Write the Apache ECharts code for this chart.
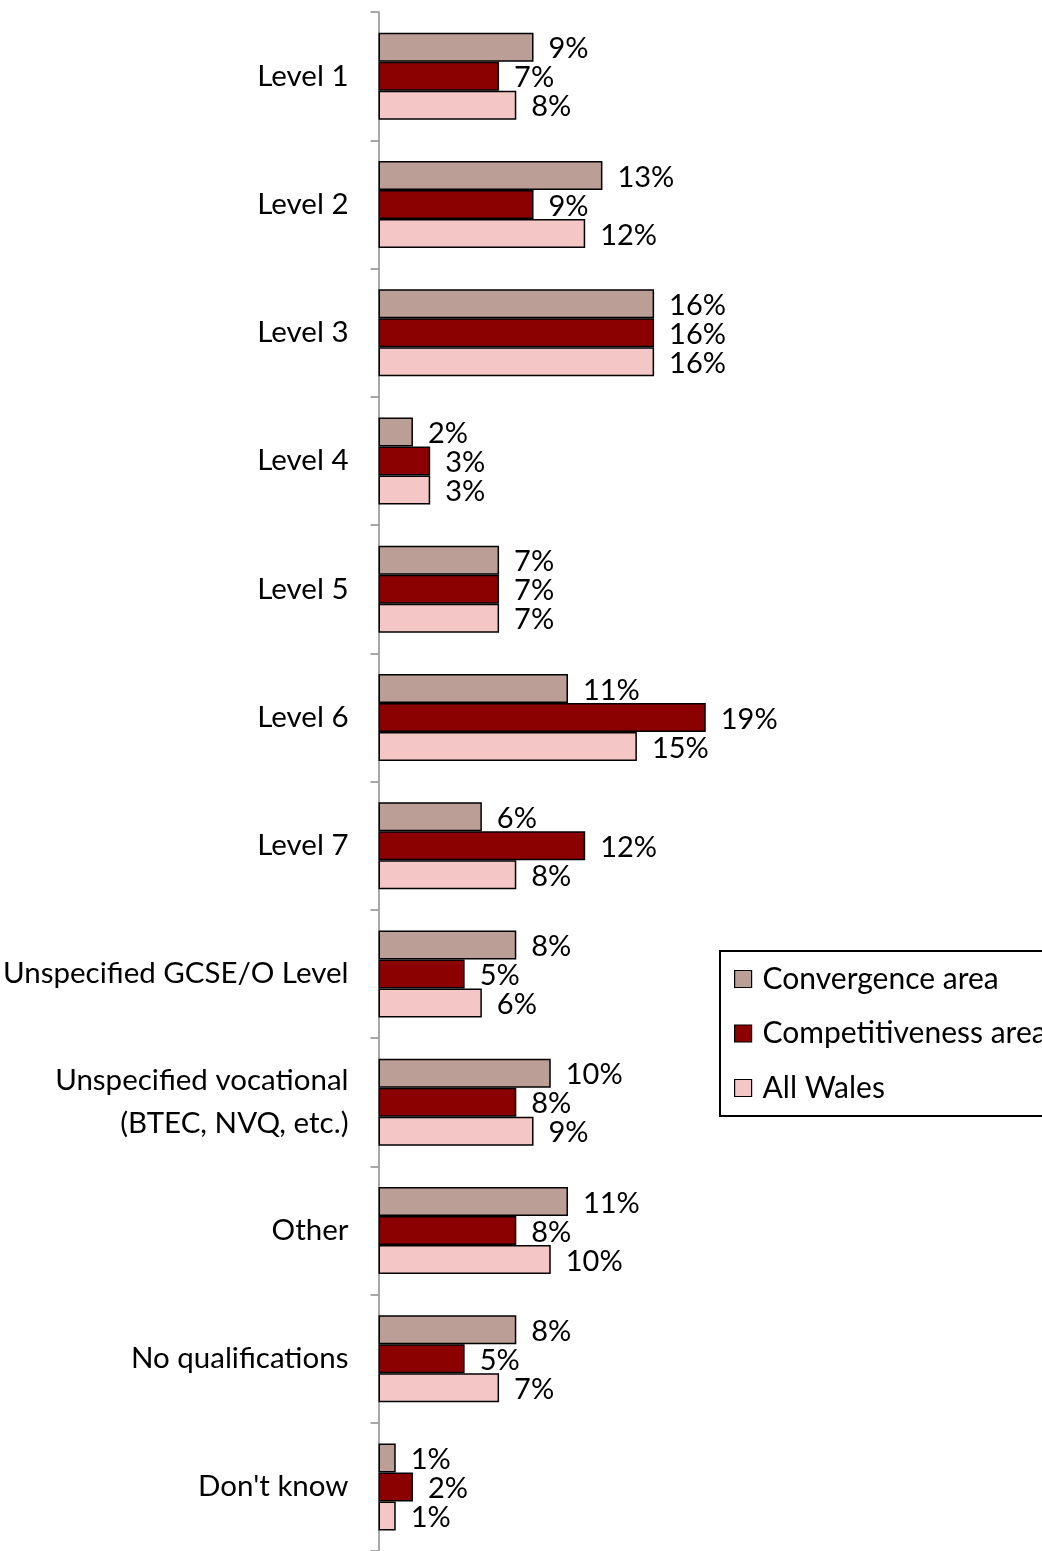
<!DOCTYPE html>
<html>
<head>
<meta charset="utf-8">
<script src="https://cdn.jsdelivr.net/npm/echarts@6/dist/echarts.min.js"></script>
<style>
html,body{margin:0;padding:0;background:#fff;}
#chart{width:1042px;height:1551px;}
</style>
</head>
<body>
<div id="chart"></div>
<script>
const categories = ["Level 1","Level 2","Level 3","Level 4","Level 5","Level 6","Level 7","Unspecified GCSE/O Level","Unspecified vocational\n(BTEC, NVQ, etc.)","Other","No qualifications","Don't know"];
const seriesNames = ["Convergence area","Competitiveness area","All Wales"];
const convergence = [9,13,16,2,7,11,6,8,10,11,8,1];
const competitiveness = [7,9,16,3,7,19,12,5,8,8,5,2];
const allWales = [8,12,16,3,7,15,8,6,9,10,7,1];
const colors = ["#BB9E95","#8B0000","#F5C6C6"];

const FONT = "Lato";
const chart = echarts.init(document.getElementById('chart'));
function mk(name, data, color){
  return {
    name: name, type: 'bar', data: data, barWidth: 29, barGap: '0%',
    itemStyle: {color: color, borderColor: '#000', borderWidth: 1.5},
    label: {show: true, position: 'right', distance: 15, offset: [0, 2], formatter: '{c}%',
      fontFamily: FONT, fontSize: 29, color: '#000'},
    animation: false
  };
}
chart.setOption({
  animation: false,
  grid: {left: 377, top: 12, width: 346, height: 1544, containLabel: false},
  xAxis: {type: 'value', min: 0, max: 20, show: false},
  yAxis: {type: 'category', data: categories, inverse: true,
    axisLine: {lineStyle: {color: '#8c8c8c', width: 1.5}},
    axisTick: {show: true, length: 8, lineStyle: {color: '#8c8c8c', width: 1.5}},
    axisLabel: {margin: 30, fontFamily: FONT, fontSize: 29.5, color: '#000', lineHeight: 43, align: 'right',
      padding: [4, 0, 0, 0]}
  },
  legend: {
    orient: 'vertical', left: 720, top: 951,
    data: seriesNames,
    itemWidth: 17, itemHeight: 17, itemGap: 24.5,
    padding: [13, 30, 13, 14],
    borderColor: '#000', borderWidth: 2,
    icon: 'rect',
    itemStyle: {borderColor: '#000', borderWidth: 1.2},
    textStyle: {fontFamily: FONT, fontSize: 30, color: '#000', lineHeight: 30, padding: [0,0,0,6]}
  },
  series: [mk(seriesNames[0], convergence, colors[0]), mk(seriesNames[1], competitiveness, colors[1]), mk(seriesNames[2], allWales, colors[2])]
});
</script>
</body>
</html>
